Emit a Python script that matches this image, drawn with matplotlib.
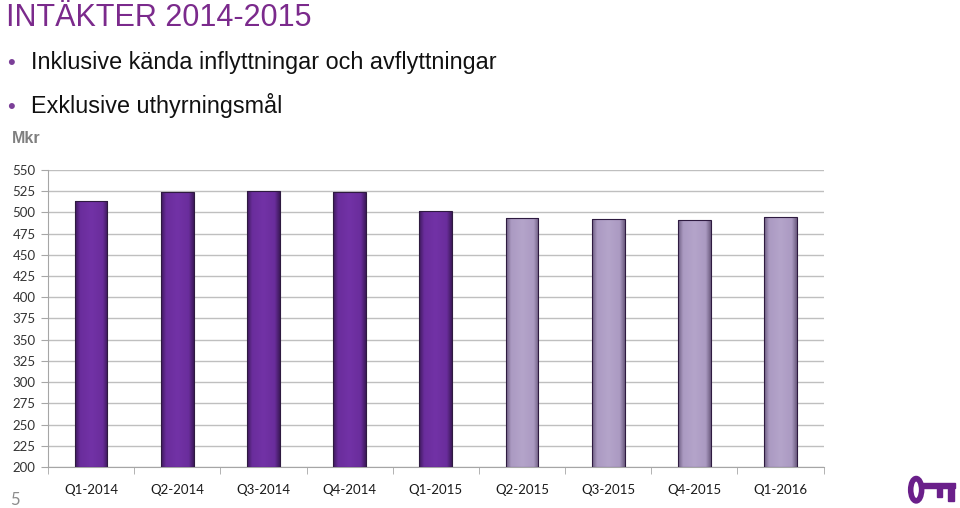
import numpy as np
from matplotlib import pyplot as plt
from matplotlib.colors import LinearSegmentedColormap
from matplotlib.patches import Ellipse, Rectangle

quarters = ['Q1-2014', 'Q2-2014', 'Q3-2014', 'Q4-2014', 'Q1-2015',
            'Q2-2015', 'Q3-2015', 'Q4-2015', 'Q1-2016']
revenue = [513, 524.5, 525, 523.5, 502, 493, 492, 491, 495]
forecast = [False, False, False, False, False, True, True, True, True]
yticks = list(range(200, 551, 25))

dark = LinearSegmentedColormap.from_list(
    'dark', [(0, '#3e1a5c'), (0.15, '#6a2d9c'), (0.5, '#7232a6'),
             (0.85, '#6a2d9c'), (1, '#3e1a5c')])
light = LinearSegmentedColormap.from_list(
    'light', [(0, '#6e5e82'), (0.15, '#ab9ac2'), (0.5, '#b4a4ca'),
              (0.85, '#ab9ac2'), (1, '#6e5e82')])

fig = plt.figure(figsize=(9.6, 5.08), dpi=100)
ax = fig.add_axes([0.05, 0.0807, 0.808, 0.5847])

width = 0.38
grad = np.linspace(0, 1, 64).reshape(1, -1)
for i, (val, fc) in enumerate(zip(revenue, forecast)):
    rect = Rectangle((i - width / 2, 200), width, val - 200,
                     facecolor='none', edgecolor='#2e1a40', lw=0.8, zorder=4)
    ax.add_patch(rect)
    im = ax.imshow(grad, cmap=light if fc else dark, aspect='auto',
                   extent=(i - width / 2, i + width / 2, 200, val), zorder=3)
    im.set_clip_path(rect)

ax.set_xlim(-0.5, 8.5)
ax.set_ylim(200, 550)
ax.set_yticks(yticks)
ax.set_xticks(range(len(quarters)))
ax.set_xticklabels(quarters)
ax.set_xticks(np.arange(-0.5, 8.6, 1), minor=True)
ax.tick_params(axis='x', which='major', length=0, pad=12, labelsize=9.5,
               labelcolor='#1a1a1a')
ax.tick_params(axis='x', which='minor', length=5, color='#a6a6a6', direction='out')
ax.tick_params(axis='y', length=5, color='#a6a6a6', labelsize=9.5,
               labelcolor='#333333', pad=4)
for lab in ax.get_xticklabels() + ax.get_yticklabels():
    lab.set_family('Lato')
ax.grid(axis='y', color='#bfbfbf', lw=1)
ax.set_axisbelow(True)
for s in ['top', 'right']:
    ax.spines[s].set_visible(False)
ax.spines['left'].set_color('#a6a6a6')
ax.spines['bottom'].set_color('#a6a6a6')

fig.text(0.006, 0.948, 'INTÄKTER 2014-2015', color='#7b2a8c', fontsize=22,
         family='Liberation Sans')
for y, txt in [(0.864, 'Inklusive kända inflyttningar och avflyttningar'),
               (0.778, 'Exklusive uthyrningsmål')]:
    fig.text(0.007, y, '•', color='#7b3f98', fontsize=16, family='Liberation Sans')
    fig.text(0.032, y, txt, color='#111111', fontsize=16.8, family='Liberation Sans')
fig.text(0.012, 0.718, 'Mkr', color='#7f7f7f', fontsize=11.5, fontweight='bold',
         family='Liberation Sans')
fig.text(0.011, 0.006, '5', color='#8c8c8c', fontsize=12, family='Lato')

# key logo
key = fig.add_axes([0.945, 0.0, 0.055, 0.08])
key.set_xlim(0, 53)
key.set_ylim(0, 40)
key.axis('off')
key.add_patch(Ellipse((9, 18), 11, 22, fill=False, ec='#6a1f8a', lw=4))
key.add_patch(Rectangle((14, 20), 34, 5, color='#6a1f8a'))
key.add_patch(Rectangle((30, 11), 4.5, 10, color='#6a1f8a'))
key.add_patch(Rectangle((41, 7), 6, 14, color='#6a1f8a'))

fig.savefig('out.png', dpi=100)
